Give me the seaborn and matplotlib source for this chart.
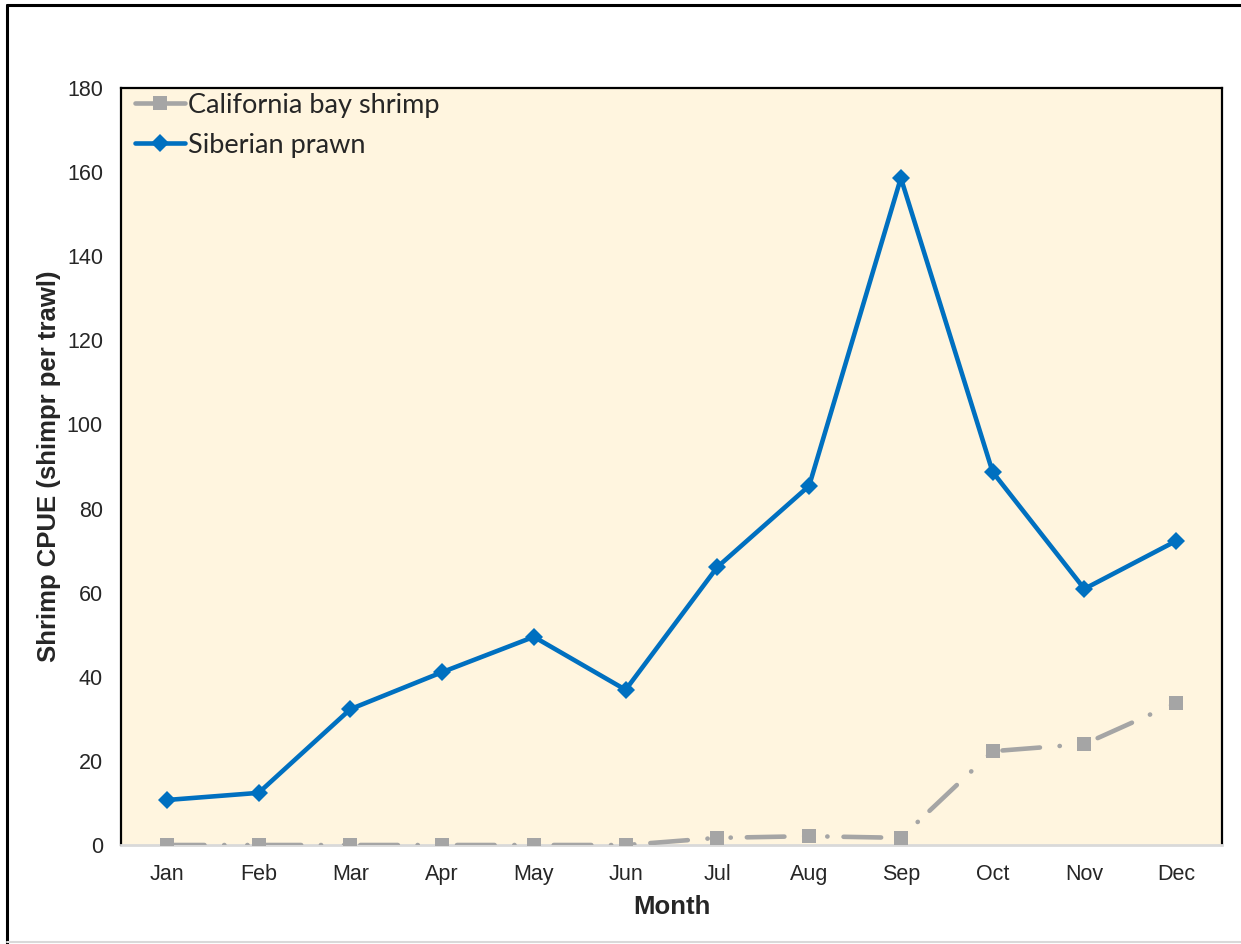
import matplotlib
matplotlib.use("Agg")
import matplotlib.pyplot as plt
from matplotlib.lines import Line2D
import numpy as np
import pandas as pd
import seaborn as sns

months = ["Jan", "Feb", "Mar", "Apr", "May", "Jun",
          "Jul", "Aug", "Sep", "Oct", "Nov", "Dec"]
bay_shrimp = [0.0, 0.0, 0.0, 0.0, 0.0, 0.0, 1.7, 2.1, 1.7, 22.3, 24.0, 33.8]
siberian_prawn = [10.7, 12.4, 32.3, 41.1, 49.5, 36.9, 66.1, 85.4, 158.6, 88.7, 60.9, 72.3]
y_ticks = [0, 20, 40, 60, 80, 100, 120, 140, 160, 180]

sns.set_style("white")
plt.rcParams["font.family"] = ["Liberation Sans", "DejaVu Sans"]

gray = "#A5A5A5"
blue = "#0070C0"

fig = plt.figure(figsize=(12.41, 9.44), dpi=100)
ax = fig.add_axes([121 / 1241, 1 - 845 / 944, (1222 - 121) / 1241, (845 - 88) / 944])
ax.set_facecolor("#FFF5DF")

df = pd.DataFrame({"Month": months,
                   "California bay shrimp": bay_shrimp,
                   "Siberian prawn": siberian_prawn})

lw = 3.3
sns.lineplot(data=df, x="Month", y="California bay shrimp", ax=ax, color=gray,
             linewidth=lw, marker="s", markersize=10, markeredgewidth=0,
             label="California bay shrimp", zorder=3)
sns.lineplot(data=df, x="Month", y="Siberian prawn", ax=ax, color=blue,
             linewidth=lw, marker="D", markersize=9, markeredgewidth=0,
             label="Siberian prawn", zorder=4)

# long dash / dot / dot pattern for the bay shrimp series
gline = ax.get_lines()[0]
gline.set_dashes([8.2, 4.3, 0.05, 5.0, 0.05, 3.5])
gline.set_dash_capstyle("round")

ax.set_xlim(-0.5, 11.5)
ax.set_ylim(0, 180)
ax.set_yticks(y_ticks)
ax.set_yticklabels([str(v) for v in y_ticks])
ax.set_xticks(range(len(months)))
ax.set_xticklabels(months)
ax.set_xticks(np.arange(-0.5, 12, 1.0), minor=True)
ax.tick_params(axis="x", which="major", length=0, pad=14, labelsize=15.5)
ax.tick_params(axis="x", which="minor", length=7, width=1.5, color="#D9D9D9",
               direction="out")
ax.tick_params(axis="y", which="major", length=0, pad=13, labelsize=15.5)

for side in ["left", "top", "right"]:
    ax.spines[side].set_color("black")
    ax.spines[side].set_linewidth(1.6)
ax.spines["bottom"].set_color("#D9D9D9")
ax.spines["bottom"].set_linewidth(2)

ax.set_xlabel("Month", fontsize=18.5, fontweight="bold", labelpad=7)
ax.set_ylabel("Shrimp CPUE (shimpr per trawl)", fontsize=18.5, fontweight="bold",
              labelpad=4.5)

handles = [
    Line2D([], [], color=gray, linewidth=lw, marker="s", markersize=10,
           markeredgewidth=0),
    Line2D([], [], color=blue, linewidth=lw, marker="D", markersize=9,
           markeredgewidth=0),
]
leg = ax.legend(handles, ["California bay shrimp", "Siberian prawn"],
                loc="upper left", frameon=False, prop={"family": "Lato", "size": 19.5},
                handlelength=1.85, handletextpad=0.12, borderaxespad=0.0,
                labelspacing=0.55, bbox_to_anchor=(0.003, 1.008))

# outer frame of the figure
fig.add_artist(Line2D([7 / 1241, 1.0], [1 - 5 / 944] * 2, color="black",
                      linewidth=2.2, transform=fig.transFigure))
fig.add_artist(Line2D([7 / 1241] * 2, [0.0, 1 - 5 / 944], color="black",
                      linewidth=2.2, transform=fig.transFigure))
fig.add_artist(Line2D([7 / 1241, 1.0], [1 - 942 / 944] * 2, color="#D9D9D9",
                      linewidth=1.5, transform=fig.transFigure))

fig.savefig("out.png", dpi=100)
